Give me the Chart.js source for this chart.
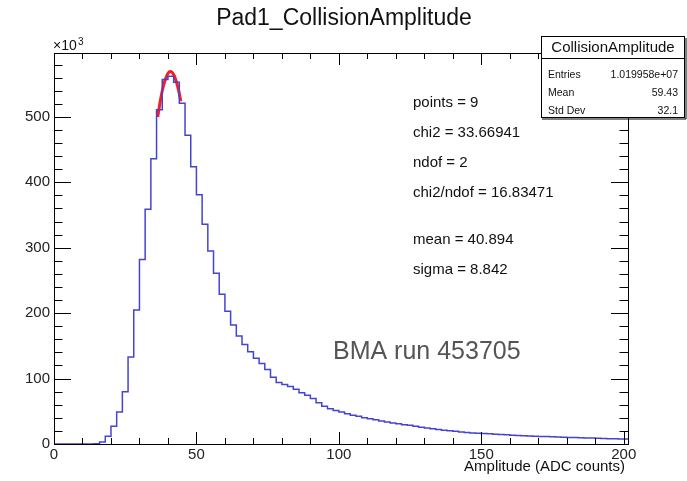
<!DOCTYPE html>
<html>
<head>
<meta charset="utf-8">
<script src="https://cdn.jsdelivr.net/npm/chart.js@4.4.1/dist/chart.umd.min.js"></script>
<style>
html, body { margin: 0; padding: 0; background: #fff; }
#c { display: block; }
</style>
</head>
<body>
<canvas id="c" width="687" height="481"></canvas>
<script>
'use strict'

// histogram bins of width 2 starting at 0, counts in units of 10^3
var binWidth = 2;
var counts = [
  0, 0, 0, 0, 0, 0, 0,
  0.3, 3, 12, 27, 49, 80, 133, 205, 282, 359, 436,
  511, 557, 562, 553, 521, 472, 424, 381, 336, 295,
  261, 229, 203, 182, 165, 152, 141, 131, 123, 114,
  102, 94, 91, 88, 83.6, 78.5, 74.4, 69.4, 63.2, 57.6,
  54, 51.4, 48.9, 46.4, 43.8, 42.3, 40.3, 38.7, 37.2, 35,
  33.5, 32, 31, 29.5, 28.5, 27, 25.6, 24.3, 23.3, 22.3,
  21.2, 20.3, 19.3, 18.4, 17.7, 17.0, 16.5, 16.0, 15.5, 15.0,
  14.4, 14.0, 13.4, 13.0, 12.7, 12.3, 12.0, 11.6, 11.3, 11.0,
  10.7, 10.4, 10.1, 9.8, 9.5, 9.3, 9.0, 8.8, 8.5, 8.2,
  8.0, 7.8, 7.7
];

// red fit curve
var fitX = [36.4, 37.5, 38.5, 39.5, 40.5, 41.5, 42.5, 43.5, 44.5];
var fitY = [500, 529, 549, 562, 569, 568, 560, 545, 524];

var xTicks = [0, 50, 100, 150, 200];
var yTicks = [0, 100, 200, 300, 400, 500];
var xMax = 201.5;
var yMax = 597.7;

var fitLines = ['points = 9', 'chi2 = 33.66941', 'ndof = 2', 'chi2/ndof = 16.83471'];
var fitPars = ['mean = 40.894', 'sigma = 8.842'];
var statsRows = [['Entries', '1.019958e+07'], ['Mean', '59.43'], ['Std Dev', '32.1']];

var histPoints = counts.map(function(v, i) { return {x: i * binWidth, y: v}; });
histPoints.push({x: counts.length * binWidth, y: counts[counts.length - 1]});
var fitPoints = fitX.map(function(x, i) { return {x: x, y: fitY[i]}; });

var FONT = '"Liberation Sans", Arial, sans-serif';
Chart.defaults.font.family = FONT;

var frame = {
  id: 'frame',
  afterDatasetsDraw: function(chart) {
    var ctx = chart.ctx, a = chart.chartArea;
    var xs = chart.scales.x, ys = chart.scales.y;
    ctx.save();
    ctx.strokeStyle = '#000';
    ctx.lineWidth = 1;
    ctx.beginPath();
    for (var v = 0; v <= 200; v += 10) {
      var px = Math.round(xs.getPixelForValue(v)) + 0.5;
      var len = v % 50 === 0 ? 12 : 6;
      ctx.moveTo(px, a.bottom); ctx.lineTo(px, a.bottom - len);
      ctx.moveTo(px, a.top); ctx.lineTo(px, a.top + len);
    }
    for (var w = 0; w < yMax; w += 20) {
      var py = Math.round(ys.getPixelForValue(w)) + 0.5;
      var l2 = w % 100 === 0 ? 17 : 8.5;
      ctx.moveTo(a.left, py); ctx.lineTo(a.left + l2, py);
      ctx.moveTo(a.right, py); ctx.lineTo(a.right - l2, py);
    }
    ctx.stroke();
    ctx.strokeRect(a.left + 0.5, a.top + 0.5, a.right - a.left, a.bottom - a.top);
    ctx.restore();
  }
};

var labels = {
  id: 'labels',
  afterDraw: function(chart) {
    var ctx = chart.ctx;
    ctx.save();
    ctx.fillStyle = '#111';
    ctx.textBaseline = 'middle';

    ctx.font = '23px ' + FONT;
    ctx.textAlign = 'center';
    ctx.fillText('Pad1_CollisionAmplitude', 344, 19);

    ctx.font = '15px ' + FONT;
    ctx.textAlign = 'right';
    ctx.fillText('Amplitude (ADC counts)', 625, 467);

    ctx.textAlign = 'left';
    ctx.font = '14px ' + FONT;
    ctx.fillText('\u00d710', 53, 46);
    ctx.font = '10px ' + FONT;
    ctx.fillText('3', 78, 42);

    ctx.font = '15px ' + FONT;
    fitLines.forEach(function(t, i) { ctx.fillText(t, 413, 103 + i * 30); });
    fitPars.forEach(function(t, i) { ctx.fillText(t, 413, 240 + i * 30); });

    ctx.fillStyle = '#555';
    ctx.font = '25px ' + FONT;
    ctx.fillText('BMA run 453705', 333, 352);

    // stats box
    ctx.fillStyle = '#fff';
    ctx.fillRect(541, 36, 143, 81);
    ctx.strokeStyle = '#000';
    ctx.lineWidth = 1;
    ctx.strokeRect(541.5, 36.5, 143, 81);
    ctx.beginPath();
    ctx.moveTo(542, 119); ctx.lineTo(686, 119); ctx.lineTo(686, 38);
    ctx.moveTo(541, 58.5); ctx.lineTo(684, 58.5);
    ctx.stroke();
    ctx.fillStyle = '#111';
    ctx.textAlign = 'center';
    ctx.font = '15px ' + FONT;
    ctx.fillText('CollisionAmplitude', 613, 47.5);
    ctx.font = '10.5px ' + FONT;
    statsRows.forEach(function(r, i) {
      ctx.textAlign = 'left';
      ctx.fillText(r[0], 548, 75 + i * 18);
      ctx.textAlign = 'right';
      ctx.fillText(r[1], 678, 75 + i * 18);
    });
    ctx.restore();
  }
};

new Chart(document.getElementById('c'), {
  type: 'line',
  data: {
    datasets: [{
      label: 'CollisionAmplitude',
      data: histPoints,
      stepped: true,
      borderColor: '#4444d4',
      borderWidth: 1.5,
      pointRadius: 0,
      fill: false
    }, {
      label: 'fit',
      data: fitPoints,
      borderColor: '#ff1a1a',
      borderWidth: 3,
      pointRadius: 0,
      tension: 0.4,
      fill: false
    }]
  },
  options: {
    responsive: false,
    animation: false,
    devicePixelRatio: 1,
    layout: { padding: { left: 0, right: 59, top: 53, bottom: 0 } },
    plugins: { legend: { display: false }, tooltip: { enabled: false } },
    scales: {
      x: {
        type: 'linear', min: 0, max: xMax,
        grid: { display: false, drawTicks: false, tickLength: 0 }, border: { display: false },
        afterBuildTicks: function(s) { s.ticks = xTicks.map(function(v) { return {value: v}; }); },
        afterFit: function(s) { s.height = 37; },
        ticks: { font: { size: 15 }, color: '#222', padding: 2, maxRotation: 0 }
      },
      y: {
        type: 'linear', min: 0, max: yMax,
        grid: { display: false, drawTicks: false, tickLength: 0 }, border: { display: false },
        afterBuildTicks: function(s) { s.ticks = yTicks.map(function(v) { return {value: v}; }); },
        afterFit: function(s) { s.width = 54; },
        ticks: { font: { size: 15 }, color: '#222', padding: 4 }
      }
    }
  },
  plugins: [frame, labels]
});
</script>
</body>
</html>
